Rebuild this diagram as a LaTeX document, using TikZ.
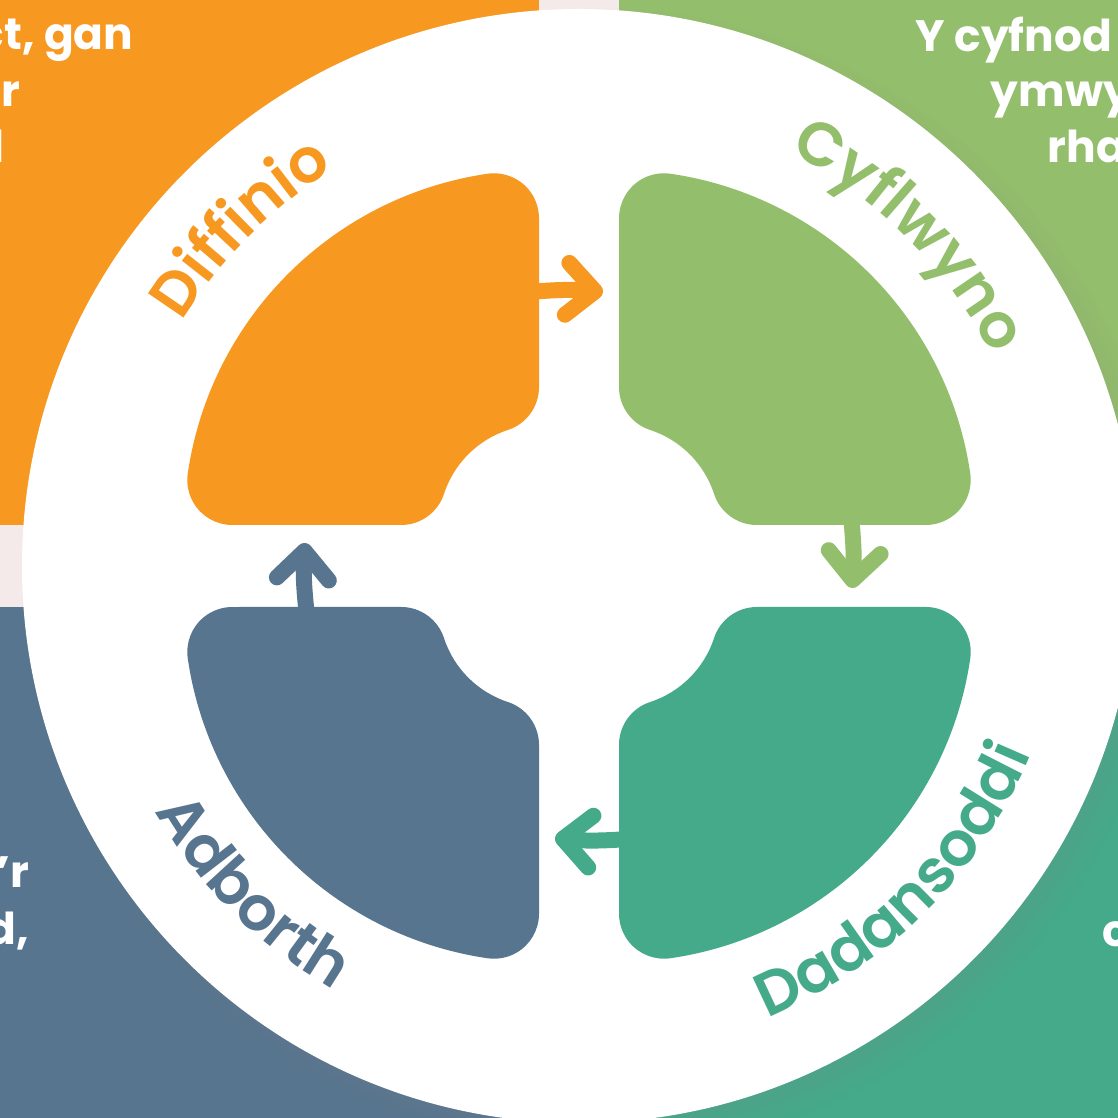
\documentclass[tikz,border=0pt]{standalone}
\usepackage{fontspec}
\setmainfont{Poppins}
\newfontfamily\stagefont{Poppins SemiBold}
\usetikzlibrary{arrows.meta,decorations.text,shadows}

\definecolor{difiorange}{HTML}{F79821}
\definecolor{cyfgreen}{HTML}{93BE6C}
\definecolor{dadteal}{HTML}{44AA8A}
\definecolor{adbblue}{HTML}{57758F}
\definecolor{gappink}{HTML}{F5EAEA}

\tikzset{
  cyclearrow/.style={line width=1.6mm, line cap=round, -{Straight Barb[round, length=2.8mm, width=5.2mm]}},
  cornertext/.style={text=white, font=\fontsize{12.5}{15}\selectfont\bfseries, inner sep=0pt},
  stagelabel/.style 2 args={decorate, decoration={text along path, text align=center,
    text color=#2, text={|\stagefont\fontsize{17.5}{21}\selectfont|#1}}},
}

\begin{document}
\begin{tikzpicture}
  \useasboundingbox (0,0) rectangle (11.18,11.18);
  \clip (0,0) rectangle (11.18,11.18);
  \fill[gappink] (0,0) rectangle (11.18,11.18);
  \fill[difiorange] (0,5.93) rectangle (5.39,11.18);
  \fill[cyfgreen] (6.19,5.93) rectangle (11.18,11.18);
  \fill[adbblue] (0,0) rectangle (5.39,5.11);
  \fill[dadteal] (6.19,0) rectangle (11.18,5.11);

  \node[cornertext, anchor=base east] (difnoteA) at (1.34,10.68) {ct, gan};
  \node[cornertext, anchor=base east] (difnoteB) at (0.21,10.11) {r};
  \node[cornertext, anchor=base east] (difnoteC) at (0.05,9.55) {l};
  \node[cornertext, anchor=base west] (cyfnoteA) at (9.15,10.66) {Y cyfnod};
  \node[cornertext, anchor=base west] (cyfnoteB) at (9.90,10.11) {ymwy};
  \node[cornertext, anchor=base west] (cyfnoteC) at (10.47,9.55) {rha};
  \node[cornertext, anchor=base east] (adbnoteA) at (0.30,2.30) {’r};
  \node[cornertext, anchor=base east] (adbnoteB) at (0.30,1.73) {d,};
  \node[cornertext, anchor=base west] (dadnoteA) at (11.02,1.71) {c};

  \coordinate (centre) at (5.79,5.52);
  \fill[white, circular drop shadow={shadow xshift=.15cm, shadow yshift=-.15cm, shadow scale=1.03, opacity=.35}]
    (centre) circle (5.57);

  \pgfmathsetmacro{\radOut}{3.55}
  \pgfmathsetmacro{\radIn}{1.0}
  \pgfmathsetmacro{\radCorner}{0.45}
  \pgfmathsetmacro{\yTop}{sqrt((\radOut-\radCorner)^2-\radCorner^2)}
  \pgfmathsetmacro{\yIn}{sqrt((\radIn+\radCorner)^2-\radCorner^2)}
  \pgfmathsetmacro{\angTop}{atan2(\yTop,\radCorner)}
  \pgfmathsetmacro{\angIn}{atan2(\yIn,\radCorner)}
  \pgfmathsetmacro{\angTopB}{90-\angTop}
  \pgfmathsetmacro{\angInB}{90-\angIn}
  \pgfmathsetmacro{\angInC}{-90-\angIn}
  \pgfmathsetmacro{\angInD}{180+\angIn}

  \foreach \ang/\col/\px/\py in {90/difiorange/5.39/5.93, 0/cyfgreen/6.19/5.93,
                                 -90/dadteal/6.19/5.11, 180/adbblue/5.39/5.11}
    \fill[\col, shift={(\px,\py)}, rotate=\ang]
      (0,\yIn) -- (0,\yTop)
      arc[start angle=180, end angle=\angTop, radius=\radCorner]
      arc[start angle=\angTop, end angle=\angTopB, radius=\radOut]
      arc[start angle=\angTopB, end angle=-90, radius=\radCorner]
      -- (\yIn,0)
      arc[start angle=-90, end angle=\angInC, radius=\radCorner]
      arc[start angle=\angInB, end angle=\angIn, radius=\radIn]
      arc[start angle=\angInD, end angle=180, radius=\radCorner]
      -- cycle;

  \coordinate (difOut) at (5.30,8.26);
  \coordinate (cyfIn) at (6.03,8.26);
  \coordinate (cyfOut) at (8.51,6.02);
  \coordinate (dadIn) at (8.52,5.30);
  \coordinate (dadOut) at (6.28,2.79);
  \coordinate (adbIn) at (5.55,2.80);
  \coordinate (adbOut) at (3.07,5.02);
  \coordinate (difIn) at (3.05,5.75);
  \draw[cyclearrow, difiorange] (difOut) to[bend left=5] (cyfIn);
  \draw[cyclearrow, cyfgreen] (cyfOut) to[bend left=5] (dadIn);
  \draw[cyclearrow, dadteal] (dadOut) to[bend left=5] (adbIn);
  \draw[cyclearrow, adbblue] (adbOut) to[bend left=5] (difIn);

  \path[stagelabel={Diffinio}{difiorange}] (centre) ++(185:4.66) arc[start angle=185, end angle=85, radius=4.66];
  \path[stagelabel={Cyflwyno}{cyfgreen}] (centre) ++(95:4.64) arc[start angle=95, end angle=-5, radius=4.64];
  \path[stagelabel={Dadansoddi}{dadteal}] (centre) ++(-95:4.90) arc[start angle=-95, end angle=5, radius=4.90];
  \path[stagelabel={Adborth}{adbblue}] (centre) ++(-185:4.90) arc[start angle=-185, end angle=-85, radius=4.90];
\end{tikzpicture}
\end{document}
